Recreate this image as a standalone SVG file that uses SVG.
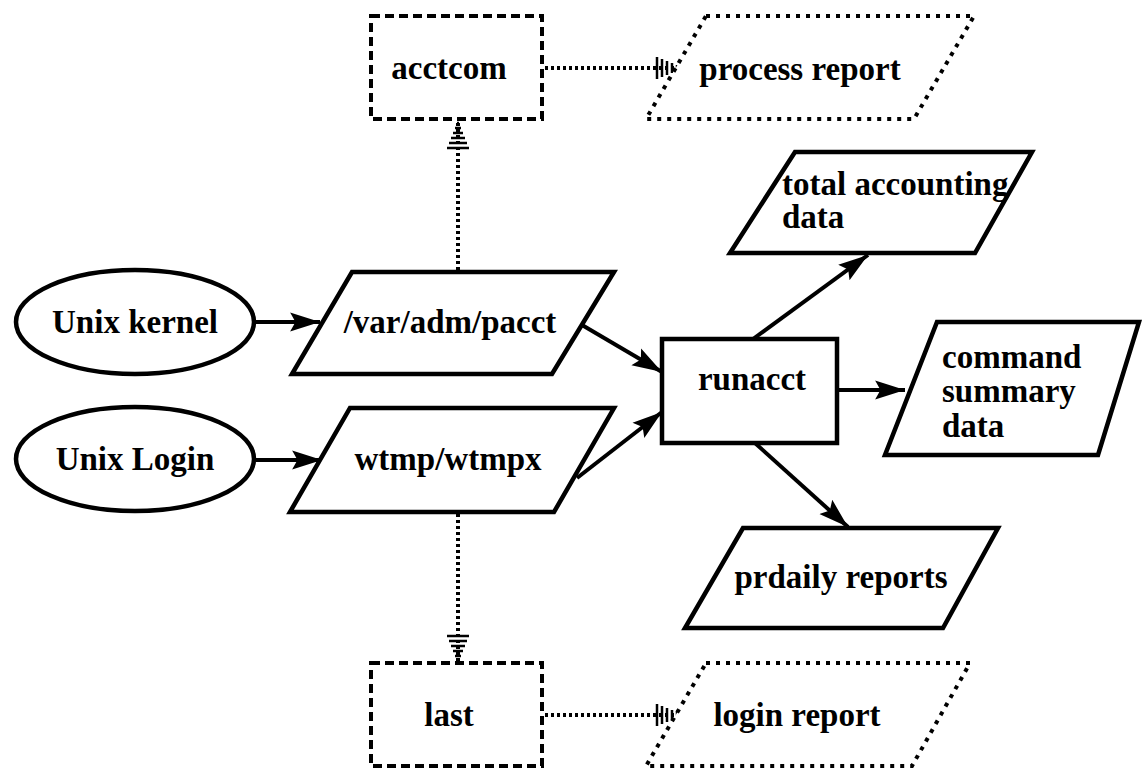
<svg xmlns="http://www.w3.org/2000/svg" width="1143" height="771" viewBox="0 0 1143 771">
<style>
.solid{fill:#fff;stroke:#000;stroke-width:4.5;stroke-linejoin:miter}
.dash{fill:#fff;stroke:#000;stroke-width:4;stroke-dasharray:9 5}
.dot{fill:#fff;stroke:#000;stroke-width:4;stroke-dasharray:4 6}
.edge{fill:none;stroke:#000;stroke-width:4}
.dedge{fill:none;stroke:#000;stroke-width:4;stroke-dasharray:3 3}
text{font-family:"Liberation Serif","Times New Roman",serif;font-weight:bold;font-size:33px;fill:#000}
.c{text-anchor:middle}
</style>
<defs>
<marker id="arr" markerUnits="userSpaceOnUse" markerWidth="32" markerHeight="22" refX="28" refY="9" orient="auto" viewBox="0 0 30 18">
<path d="M0,0 L28,9 L0,18 L5,9 Z" fill="#000"/>
</marker>
<marker id="hatch" markerUnits="userSpaceOnUse" markerWidth="30" markerHeight="24" refX="28" refY="12" orient="auto" viewBox="0 0 30 24">
<g stroke="#000" stroke-width="2.5">
<line x1="2" y1="1" x2="2" y2="23"/>
<line x1="7" y1="3" x2="7" y2="21"/>
<line x1="12" y1="5" x2="12" y2="19"/>
<line x1="17" y1="7" x2="17" y2="17"/>
<line x1="22" y1="9" x2="22" y2="15"/>
<line x1="27" y1="11" x2="27" y2="13"/>
</g>
</marker>
</defs>

<g id="connectors">
<line class="edge" x1="256" y1="322" x2="320" y2="322" marker-end="url(#arr)"/>
<line class="edge" x1="256" y1="460" x2="322" y2="460" marker-end="url(#arr)"/>
<line class="edge" x1="582" y1="325" x2="662" y2="372" marker-end="url(#arr)"/>
<line class="edge" x1="577" y1="478" x2="662" y2="412" marker-end="url(#arr)"/>
<line class="edge" x1="753" y1="339" x2="868" y2="255" marker-end="url(#arr)"/>
<line class="edge" x1="837" y1="390" x2="905" y2="390" marker-end="url(#arr)"/>
<line class="edge" x1="755" y1="443" x2="848" y2="527" marker-end="url(#arr)"/>
<line class="dedge" x1="458" y1="270" x2="458" y2="122" marker-end="url(#hatch)"/>
<line class="dedge" x1="458" y1="514" x2="458" y2="662" marker-end="url(#hatch)"/>
<line class="dedge" x1="545" y1="68" x2="683" y2="68" marker-end="url(#hatch)"/>
<line class="dedge" x1="545" y1="715" x2="683" y2="715" marker-end="url(#hatch)"/>
</g>

<g id="acctcom">
<rect class="dash" x="371" y="16" width="171" height="103"/>
<text class="c" x="449" y="79">acctcom</text>
</g>
<g id="process-report">
<polygon class="dot" points="706,16 974,16 914,119 646,119"/>
<text class="c" x="800" y="80">process report</text>
</g>
<g id="unix-kernel">
<ellipse class="solid" cx="135" cy="322" rx="119" ry="52"/>
<text class="c" x="135" y="333">Unix kernel</text>
</g>
<g id="unix-login">
<ellipse class="solid" cx="135" cy="459" rx="119" ry="52"/>
<text class="c" x="135" y="470">Unix Login</text>
</g>
<g id="pacct">
<polygon class="solid" points="352,272 614,272 552,374 292,374"/>
<text class="c" x="450" y="333">/var/adm/pacct</text>
</g>
<g id="wtmp">
<polygon class="solid" points="350,408 614,408 554,512 290,512"/>
<text class="c" x="448" y="470">wtmp/wtmpx</text>
</g>
<g id="runacct">
<rect class="solid" x="662" y="339" width="175" height="104"/>
<text class="c" x="752" y="390">runacct</text>
</g>
<g id="total-accounting">
<polygon class="solid" points="795,152 1032,152 975,253 730,253"/>
<text x="782" y="195">total accounting</text>
<text x="782" y="228">data</text>
</g>
<g id="command-summary">
<polygon class="solid" points="937,322 1139,322 1098,455 885,455"/>
<text x="942" y="368">command</text>
<text x="942" y="402">summary</text>
<text x="942" y="437">data</text>
</g>
<g id="prdaily">
<polygon class="solid" points="743,528 998,528 943,628 685,628"/>
<text class="c" x="841" y="588">prdaily reports</text>
</g>
<g id="last">
<rect class="dash" x="371" y="663" width="171" height="103"/>
<text class="c" x="449" y="726">last</text>
</g>
<g id="login-report">
<polygon class="dot" points="706,663 970,663 912,766 646,766"/>
<text class="c" x="797" y="726">login report</text>
</g>
</svg>
